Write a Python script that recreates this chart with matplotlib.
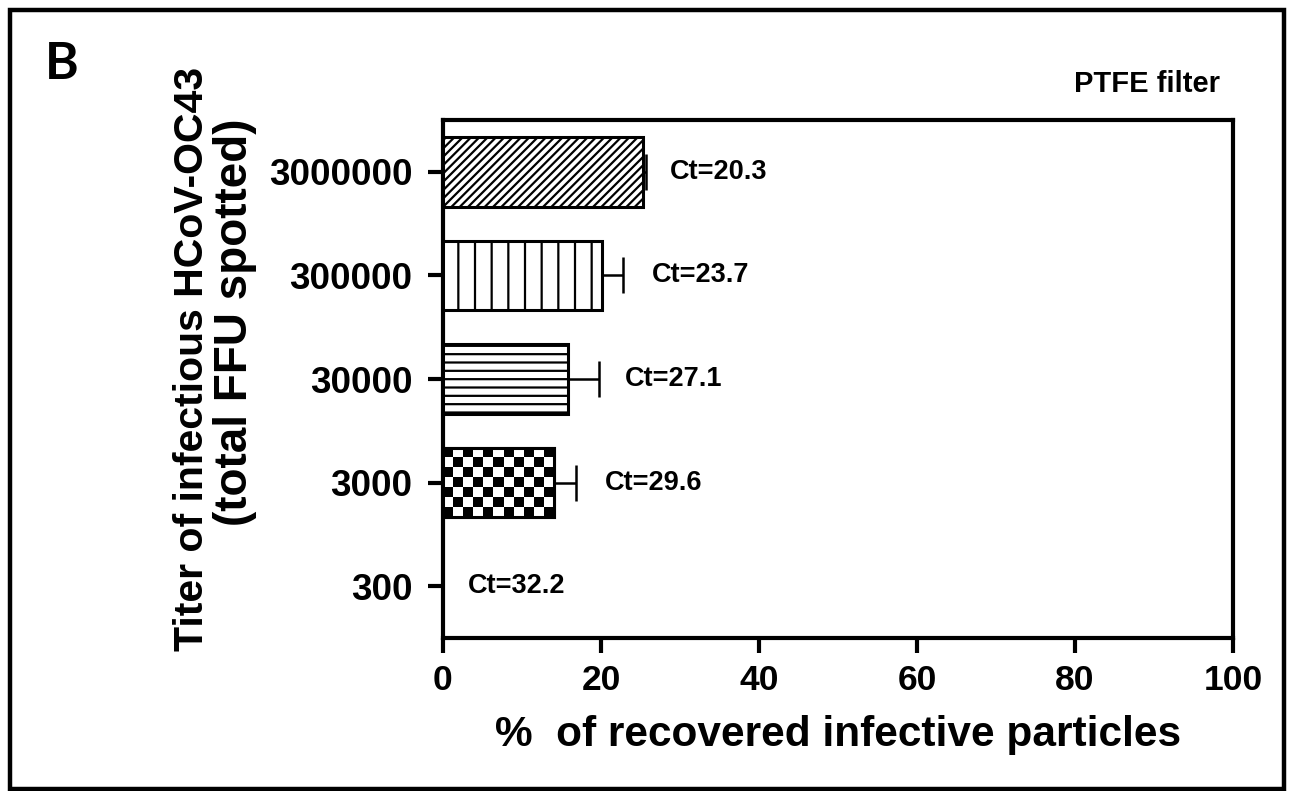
import numpy as np
import matplotlib
matplotlib.use("Agg")
import matplotlib.pyplot as plt
from matplotlib.patches import Rectangle

# ---- data ----
categories = ["300", "3000", "30000", "300000", "3000000"]
recovered = [0.0, 14.0, 15.8, 20.1, 25.3]
errors = [0.0, 2.9, 4.0, 2.7, 0.4]
ct_labels = ["Ct=32.2", "Ct=29.6", "Ct=27.1", "Ct=23.7", "Ct=20.3"]
ct_xpos = [3.2, 20.5, 23.0, 26.4, 28.7]
hatches = [None, "checker", "--", "|", "////"]
x_ticks = [0, 20, 40, 60, 80, 100]

plt.rcParams["font.family"] = ["Liberation Sans", "DejaVu Sans"]
plt.rcParams["font.weight"] = "bold"
plt.rcParams["hatch.linewidth"] = 1.6

fig = plt.figure(figsize=(12.90, 7.91), dpi=100)
ax = fig.add_axes([0.3434, 0.1934, 0.6124, 0.6549])

ypos = np.arange(len(categories))
bar_h = 0.67
for i, (v, e, h) in enumerate(zip(recovered, errors, hatches)):
    if v <= 0:
        continue
    if h == "checker":
        bar = ax.barh(ypos[i], v, height=bar_h, color="white", edgecolor="black",
                      linewidth=2.2, zorder=3)[0]
        sq_x = 1.33
        sq_y = 0.101
        nx = max(1, int(round(v / sq_x)))
        ny = max(1, int(round(bar_h / sq_y)))
        board = (np.indices((ny, nx)).sum(axis=0) % 2)
        im = ax.imshow(board, cmap="gray", interpolation="nearest", aspect="auto",
                       extent=(0, v, ypos[i] - bar_h / 2, ypos[i] + bar_h / 2),
                       zorder=3.5, origin="upper")
        im.set_clip_path(bar)
        ax.barh(ypos[i], v, height=bar_h, color="none", edgecolor="black",
                linewidth=2.2, zorder=4)
    else:
        ax.barh(ypos[i], v, height=bar_h, color="white", edgecolor="black",
                hatch=h, linewidth=2.2, zorder=3)
    ax.errorbar(v, ypos[i], xerr=[[0], [e]], fmt="none", ecolor="black",
                elinewidth=1.8, capsize=13, capthick=1.8, zorder=5)

for i, (lab, xp) in enumerate(zip(ct_labels, ct_xpos)):
    ax.text(xp, ypos[i], lab, ha="left", va="center", fontsize=19.5,
            fontweight="bold", zorder=6)

ax.set_xlim(0, 100)
ax.set_ylim(-0.5, 4.5)
ax.set_xticks(x_ticks)
ax.set_xticklabels([str(t) for t in x_ticks], fontsize=25.5, fontweight="bold")
ax.set_yticks(ypos)
ax.set_yticklabels(categories, fontsize=26.5, fontweight="bold")
for s in ax.spines.values():
    s.set_linewidth(3)
ax.tick_params(axis="both", width=3, length=11)
ax.tick_params(axis="x", pad=8)
ax.tick_params(axis="y", pad=11)
ax.set_xlabel("%  of recovered infective particles", fontsize=30.5,
              fontweight="bold", labelpad=13)

fig.text(0.1485, 0.546, "Titer of infectious HCoV-OC43",
         rotation=90, ha="center", va="center", fontsize=29.5, fontweight="bold")
fig.text(0.1825, 0.592, "(total FFU spotted)",
         rotation=90, ha="center", va="center", fontsize=33, fontweight="bold")
fig.text(0.035, 0.918, "B", fontsize=37, fontweight="bold", family="Lato",
         ha="left", va="center")
fig.text(0.946, 0.894, "PTFE filter", fontsize=21, fontweight="bold",
         ha="right", va="center")

frame = Rectangle((0.008, 0.003), 0.987, 0.984, transform=fig.transFigure,
                  fill=False, edgecolor="black", linewidth=3.2)
fig.patches.append(frame)

fig.savefig("out.png", dpi=100)
